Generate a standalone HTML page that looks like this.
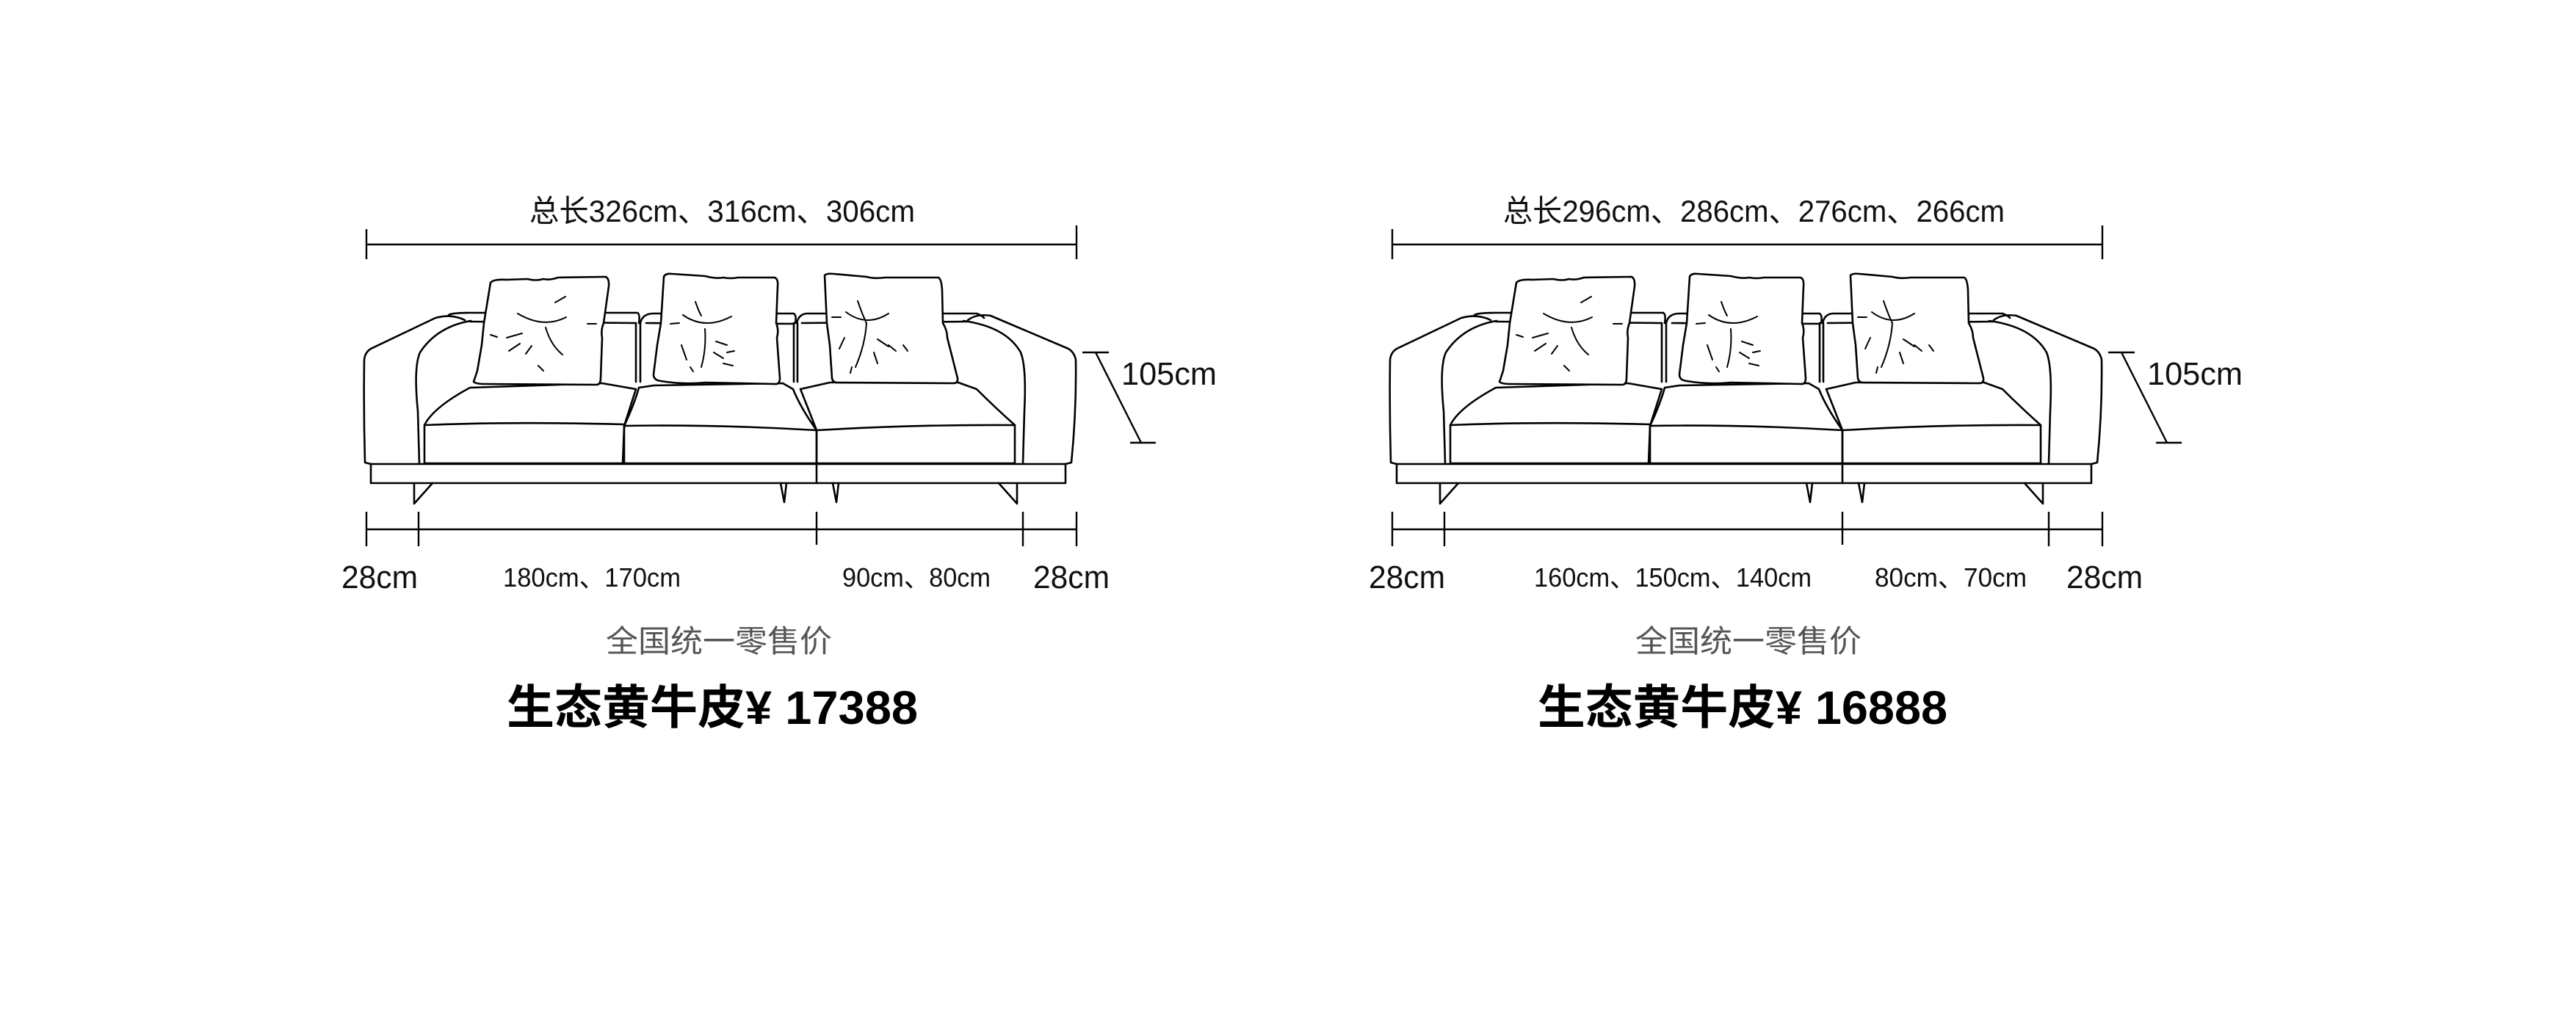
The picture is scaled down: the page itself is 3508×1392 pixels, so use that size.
<!DOCTYPE html>
<html><head><meta charset="utf-8"><style>
html,body{margin:0;padding:0;background:#fff;}
svg{display:block;}
text{font-family:"Liberation Sans","Noto Sans CJK SC",sans-serif;}
</style></head><body>
<svg width="3508" height="1392" viewBox="0 0 3508 1392" xmlns="http://www.w3.org/2000/svg">
<defs>
<g id="sofa" fill="none" stroke="#000" stroke-width="2.6" stroke-linecap="round" stroke-linejoin="round">
  <rect x="505" y="632" width="946" height="26" fill="#fff"/>
  <line x1="1112" y1="632" x2="1112" y2="658"/>
  <path d="M564 658 L564 686 L589 658"/>
  <path d="M1063 658 L1068 684 L1071 658"/>
  <path d="M1134 658 L1139 684 L1142 658"/>
  <path d="M1360 658 L1385 686 L1385 658"/>
  <path d="M505 632 L497 630 Q495 560 496 490 Q497 480 505 475 L593 433 Q615 427 633 436"/>
  <path d="M571 631 L569 560 Q563 500 572 480 Q595 445 641 437"/>
  <path d="M1451 632 L1459 630 Q1466 560 1465 490 Q1463 480 1455 475 L1349 430 Q1330 427 1318 436"/>
  <path d="M1393 631 L1395 560 Q1398 500 1390 480 Q1370 445 1312 437"/>
  <path d="M611 429 Q615 426 640 426 L868 426 Q872 428 870 440"/>
  <path d="M872 440 Q875 427 890 427 L1081 427 Q1085 430 1083 440"/>
  <path d="M1085 440 Q1088 427 1100 427 L1330 427 Q1338 430 1340 433"/>
  <path d="M640 438 L866 440 M880 440 L1081 441 M1092 440 L1318 438"/>
  <path d="M866 440 L866 520 M872 440 L872 520 M1081 440 L1081 520 M1086 440 L1086 520"/>
  <path d="M578 631 L578 579 Q590 555 640 528 L820 522 L866 530 L850 580 L848 631"/>
  <path d="M578 579 Q700 574 850 578"/>
  <path d="M850 631 L850 580 Q864 550 870 528 L890 525 L1066 522 L1080 530 Q1090 555 1112 586 L1112 631"/>
  <path d="M850 580 Q980 578 1112 586"/>
  <path d="M1112 631 L1112 586 Q1100 555 1090 530 L1130 521 L1305 521 L1330 530 Q1355 555 1382 579 L1382 631"/>
  <path d="M1112 586 Q1250 578 1382 579"/>
  <path d="M578 631 L1382 631"/>
  <path d="M668 385 Q672 380 690 381 L718 380 Q730 383 740 380 Q748 382 760 378 L825 377 Q830 380 829 390 L822 440 Q818 450 820 460 L818 515 Q818 524 812 524 L660 523 Q648 523 645 520 L650 505 L656 470 L659 440 Z" fill="#fff"/>
  <path d="M904 377 Q906 372 915 373 L960 376 Q975 380 985 378 Q995 380 1005 378 L1055 378 Q1060 380 1059 390 L1057 440 Q1061 450 1058 460 L1062 515 Q1062 524 1055 523 L960 521 Q930 524 900 519 Q890 518 890 510 L895 470 L900 440 Z" fill="#fff"/>
  <path d="M1123 375 Q1126 372 1135 373 L1180 377 Q1190 380 1205 378 L1278 378 Q1282 380 1283 395 L1284 440 Q1290 450 1290 460 L1304 515 Q1305 522 1298 522 L1140 521 Q1134 521 1133 515 L1130 470 L1126 440 Z" fill="#fff"/>
  <g stroke-width="2">
    <path d="M705 427 Q740 448 771 432 M743 446 Q750 470 766 483 M756 412 L770 404 M690 460 L711 454 M693 478 L708 468 M716 482 L724 471 M733 498 L740 505 M668 456 L677 459 M800 441 L812 441"/>
    <path d="M930 429 Q960 450 996 431 M960 448 Q962 475 955 500 M947 411 Q952 425 955 430 M913 441 L925 440 M975 465 L990 470 M972 480 L985 488 M990 480 L1000 478 M985 495 L998 498 M928 470 L935 490 M940 500 L944 506"/>
    <path d="M1152 425 Q1180 446 1210 427 M1180 440 Q1178 470 1165 500 M1168 410 Q1175 430 1180 440 M1133 432 L1145 432 M1195 462 L1210 472 M1210 470 L1220 478 M1230 470 L1236 478 M1150 460 L1143 475 M1190 480 L1195 495 M1160 500 L1158 508"/>
  </g>
</g>
<g id="dims" stroke="#000" stroke-width="2.4" fill="none">
  <line x1="499" y1="333" x2="1466" y2="333"/>
  <line x1="499" y1="312" x2="499" y2="353"/>
  <line x1="1466" y1="307" x2="1466" y2="353"/>
  <line x1="499" y1="721" x2="1466" y2="721"/>
  <line x1="499" y1="697" x2="499" y2="744"/>
  <line x1="570" y1="697" x2="570" y2="744"/>
  <line x1="1112" y1="697" x2="1112" y2="742"/>
  <line x1="1393" y1="697" x2="1393" y2="744"/>
  <line x1="1466" y1="697" x2="1466" y2="744"/>
  <line x1="1474" y1="480" x2="1510" y2="480"/>
  <line x1="1492" y1="480" x2="1554" y2="603"/>
  <line x1="1539" y1="603" x2="1574" y2="603"/>
</g>
</defs>

<use href="#sofa"/>
<use href="#dims"/>
<g transform="translate(1397,0)"><use href="#sofa"/><use href="#dims"/></g>

<g fill="#111">
  <text x="721" y="302" font-size="42" textLength="525" lengthAdjust="spacingAndGlyphs">总长326cm、316cm、306cm</text>
  <text x="1527" y="524" font-size="44" textLength="130" lengthAdjust="spacingAndGlyphs">105cm</text>
  <text x="465" y="801" font-size="44" textLength="104" lengthAdjust="spacingAndGlyphs">28cm</text>
  <text x="685" y="799" font-size="36" textLength="242" lengthAdjust="spacingAndGlyphs">180cm、170cm</text>
  <text x="1147" y="799" font-size="36" textLength="202" lengthAdjust="spacingAndGlyphs">90cm、80cm</text>
  <text x="1407" y="801" font-size="44" textLength="104" lengthAdjust="spacingAndGlyphs">28cm</text>
  <text x="825" y="888" font-size="42" fill="#555" textLength="308" lengthAdjust="spacingAndGlyphs">全国统一零售价</text>
  <text x="690" y="986" font-size="64" font-weight="bold" fill="#000" textLength="560" lengthAdjust="spacingAndGlyphs">生态黄牛皮¥ 17388</text>

  <text x="2047" y="302" font-size="42" textLength="683" lengthAdjust="spacingAndGlyphs">总长296cm、286cm、276cm、266cm</text>
  <text x="2924" y="524" font-size="44" textLength="130" lengthAdjust="spacingAndGlyphs">105cm</text>
  <text x="1864" y="801" font-size="44" textLength="104" lengthAdjust="spacingAndGlyphs">28cm</text>
  <text x="2089" y="799" font-size="36" textLength="378" lengthAdjust="spacingAndGlyphs">160cm、150cm、140cm</text>
  <text x="2553" y="799" font-size="36" textLength="207" lengthAdjust="spacingAndGlyphs">80cm、70cm</text>
  <text x="2814" y="801" font-size="44" textLength="104" lengthAdjust="spacingAndGlyphs">28cm</text>
  <text x="2227" y="888" font-size="42" fill="#555" textLength="308" lengthAdjust="spacingAndGlyphs">全国统一零售价</text>
  <text x="2094" y="986" font-size="64" font-weight="bold" fill="#000" textLength="558" lengthAdjust="spacingAndGlyphs">生态黄牛皮¥ 16888</text>
</g>
</svg>
</body></html>
